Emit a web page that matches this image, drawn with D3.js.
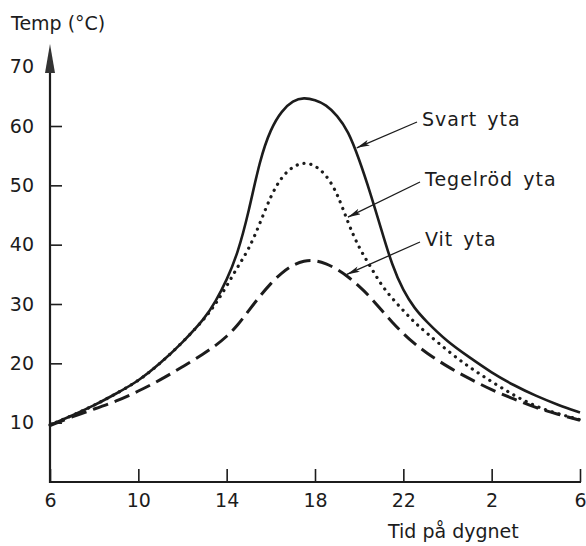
<!DOCTYPE html>
<html>
<head>
<meta charset="utf-8">
<script src="https://cdn.jsdelivr.net/npm/d3@7"></script>
<style>
  html, body { margin: 0; padding: 0; background: #fff; }
  svg { display: block; }
  text { font-family: "DejaVu Sans", sans-serif; fill: #1c1c1c; }
</style>
</head>
<body>
<svg id="chart" width="586" height="546"></svg>
<script>
// ---- Data ----
const hours = [6,7,8,9,10,11,12,13,13.5,14,14.5,15,15.5,16,16.5,17,17.5,18,18.5,19,19.5,20,20.5,21,21.5,22,22.5,23,24,25,26,27,28,29,30];
const svartYta = [9.6,11.2,12.9,14.9,17.0,20.0,23.5,27.5,30.4,34.0,38.5,45.5,54.3,59.6,62.6,64.3,64.8,64.4,63.6,61.8,59.2,54.4,48.8,42.6,36.4,32.2,29.3,27.2,23.6,21.0,18.4,16.3,14.5,13.0,11.7];
const tegelrodYta = [9.6,11.2,12.9,14.9,17.0,20.0,23.5,27.5,30.0,33.0,36.3,39.2,43.5,48.3,51.5,53.2,53.9,53.4,51.8,48.8,43.6,39.4,36.4,33.2,30.9,28.9,26.9,25.3,22.1,19.3,16.9,14.6,12.7,11.5,10.5];
const vitYta = [9.5,11.0,12.3,13.6,15.3,17.2,19.4,21.7,23.0,24.5,26.4,28.9,31.3,33.5,35.3,36.6,37.3,37.4,36.8,35.9,34.6,33.0,31.2,29.0,26.9,25.0,23.3,21.9,19.4,17.4,15.5,14.0,12.5,11.4,10.4];

const yTickValues = [10,20,30,40,50,60,70];
const xTickHours = [6,10,14,18,22,26,30];
const xTickLabels = ["6","10","14","18","22","2","6"];

const seriesNames = ["Svart yta","Tegelröd yta","Vit yta"];
const seriesData = [svartYta, tegelrodYta, vitYta];
const annotationHours = [19.8, 19.4, 19.35];

const yTitle = "Temp (°C)";
const xTitle = "Tid på dygnet";

// ---- Layout ----
const svg = d3.select("#chart");
const ink = "#1c1c1c";
const x = d3.scaleLinear().domain([6,30]).range([50,580]);
const y = d3.scaleLinear().domain([0,60]).range([482,126]);

// ---- Axes ----
const yAxis = d3.axisLeft(y).tickValues(yTickValues).tickSizeInner(-12).tickSizeOuter(0).tickPadding(16).tickFormat(d3.format("d"));
const gy = svg.append("g").attr("transform","translate(50,0)").call(yAxis);
gy.select(".domain").remove();
gy.selectAll(".tick line").attr("stroke", ink).attr("stroke-width", 1.6)
  .filter(d => d === 70).remove();
gy.selectAll(".tick text").attr("font-size", 19).attr("fill", ink).attr("x", -16);

const xAxis = d3.axisBottom(x).tickValues(xTickHours).tickSizeInner(-13).tickSizeOuter(0).tickPadding(12)
  .tickFormat((d,i) => xTickLabels[i]);
const gx = svg.append("g").attr("transform","translate(0,482)").call(xAxis);
gx.select(".domain").remove();
gx.selectAll(".tick line").attr("stroke", ink).attr("stroke-width", 1.6);
gx.selectAll(".tick text").attr("font-size", 19).attr("fill", ink);

// axis lines
svg.append("line").attr("x1", x(6)).attr("x2", x(30) + 1).attr("y1", y(0)).attr("y2", y(0))
  .attr("stroke", ink).attr("stroke-width", 2.2);
svg.append("line").attr("x1", x(6)).attr("x2", x(6)).attr("y1", y(0) + 1).attr("y2", 60)
  .attr("stroke", ink).attr("stroke-width", 2.2);
// arrow head on y-axis
svg.append("path")
  .attr("d", `M${x(6)},44 L${x(6)-5},73 L${x(6)+5},73 Z`)
  .attr("fill", "#333");

// titles
svg.append("text").attr("x", 11).attr("y", 30).attr("font-size", 19).text(yTitle);
svg.append("text").attr("x", 388).attr("y", 538).attr("font-size", 19).text(xTitle);

// ---- Lines ----
const line = d3.line().x((d,i) => x(hours[i])).y(d => y(d)).curve(d3.curveBasis);
const styles = [
  {w: 2.6, dash: null, cap: "butt"},
  {w: 3.2, dash: "0.1,6.9", cap: "round"},
  {w: 3.0, dash: "16,7", cap: "butt"}
];
seriesData.forEach((s, k) => {
  svg.append("path").datum(s).attr("d", line)
    .attr("fill", "none").attr("stroke", ink)
    .attr("stroke-width", styles[k].w)
    .attr("stroke-linecap", styles[k].cap)
    .attr("stroke-dasharray", styles[k].dash);
});

// ---- Annotations ----
const defs = svg.append("defs");
defs.append("marker").attr("id","arr").attr("viewBox","0 0 13 6")
  .attr("refX", 13).attr("refY", 3).attr("markerWidth", 13).attr("markerHeight", 6)
  .attr("markerUnits","userSpaceOnUse").attr("orient","auto")
  .append("path").attr("d","M0,0 L13,3 L0,6 L3,3 Z").attr("fill", ink);

function valueAt(s, h) {
  const i = d3.bisectRight(hours, h) - 1;
  const t = (h - hours[i]) / (hours[i+1] - hours[i]);
  return s[i] + t * (s[i+1] - s[i]);
}
const labelPos = [[422,126],[425,186],[425,246]];
seriesNames.forEach((name, k) => {
  const [lx, ly] = labelPos[k];
  const h = annotationHours[k];
  const tx = x(h) + 2, ty = y(valueAt(seriesData[k], h));
  svg.append("line").attr("x1", lx - 5).attr("y1", ly - 4).attr("x2", tx).attr("y2", ty)
    .attr("stroke", ink).attr("stroke-width", 1.3).attr("marker-end","url(#arr)");
  svg.append("text").attr("x", lx).attr("y", ly).attr("font-size", 19)
    .attr("letter-spacing", 1).attr("word-spacing", 3).text(name);
});
</script>
</body>
</html>
